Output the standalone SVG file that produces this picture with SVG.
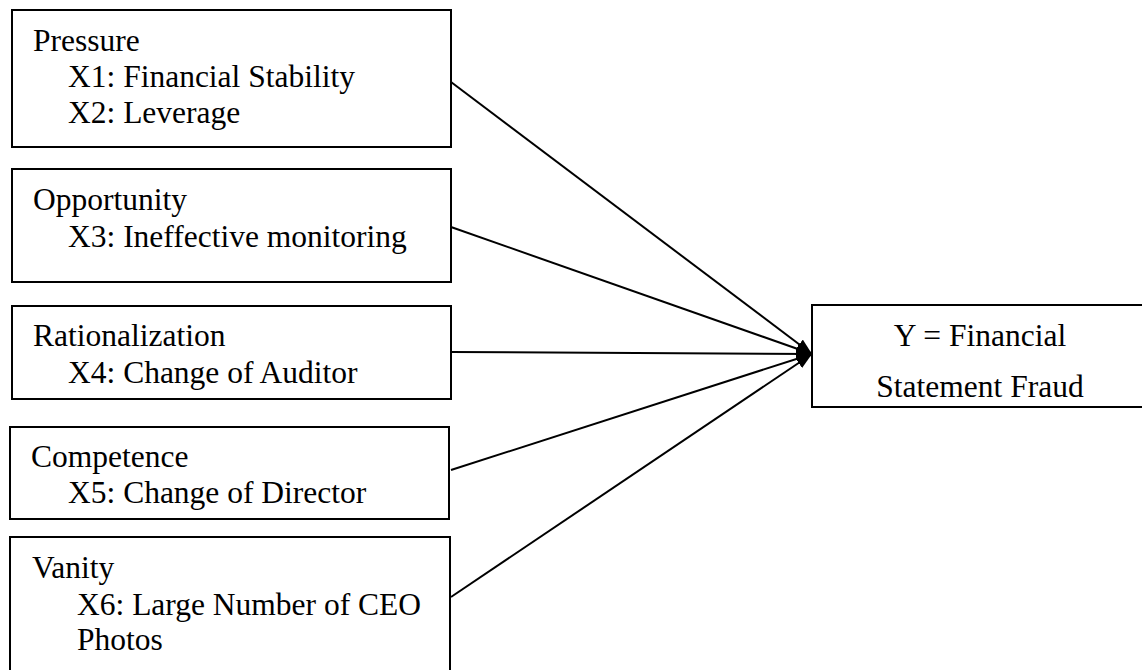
<svg xmlns="http://www.w3.org/2000/svg" width="1142" height="670" viewBox="0 0 1142 670">
<defs>
<style>
.box{fill:#fff;stroke:#000;stroke-width:2}
.t{font-family:"Liberation Serif","Times New Roman",serif;font-size:31.5px;fill:#000}
.c{text-anchor:middle}
.ln{stroke:#000;stroke-width:2;fill:none;marker-end:url(#ah)}
</style>
<marker id="ah" viewBox="0 0 16 12" refX="16" refY="6" markerWidth="16" markerHeight="12" markerUnits="userSpaceOnUse" orient="auto">
<path d="M0,0 L16,6 L0,12 Z" fill="#000"/>
</marker>
</defs>
<rect width="1142" height="670" fill="#fff"/>
<g id="connectors">
<line class="ln" x1="451" y1="82" x2="812" y2="354"/>
<line class="ln" x1="451" y1="227" x2="812" y2="354"/>
<line class="ln" x1="451" y1="352" x2="812" y2="354"/>
<line class="ln" x1="451" y1="470" x2="812" y2="354"/>
<line class="ln" x1="451" y1="597" x2="812" y2="354"/>
</g>
<g id="pressure">
<rect class="box" x="12" y="10" width="439" height="137"/>
<text class="t" x="33" y="51">Pressure</text>
<text class="t" x="68" y="87">X1: Financial Stability</text>
<text class="t" x="68" y="123">X2: Leverage</text>
</g>
<g id="opportunity">
<rect class="box" x="12" y="169" width="439" height="113"/>
<text class="t" x="33" y="210">Opportunity</text>
<text class="t" x="68" y="247">X3: Ineffective monitoring</text>
</g>
<g id="rationalization">
<rect class="box" x="12" y="306" width="439" height="93"/>
<text class="t" x="33" y="346">Rationalization</text>
<text class="t" x="68" y="383">X4: Change of Auditor</text>
</g>
<g id="competence">
<rect class="box" x="10" y="427" width="439" height="92"/>
<text class="t" x="31" y="467">Competence</text>
<text class="t" x="68" y="503">X5: Change of Director</text>
</g>
<g id="vanity">
<rect class="box" x="10" y="537" width="440" height="140"/>
<text class="t" x="32" y="578">Vanity</text>
<text class="t" x="77" y="615">X6: Large Number of CEO</text>
<text class="t" x="77" y="650">Photos</text>
</g>
<g id="fraud">
<rect class="box" x="812" y="305" width="335" height="102"/>
<text class="t c" x="980" y="346">Y = Financial</text>
<text class="t c" x="980" y="397">Statement Fraud</text>
</g>
</svg>
